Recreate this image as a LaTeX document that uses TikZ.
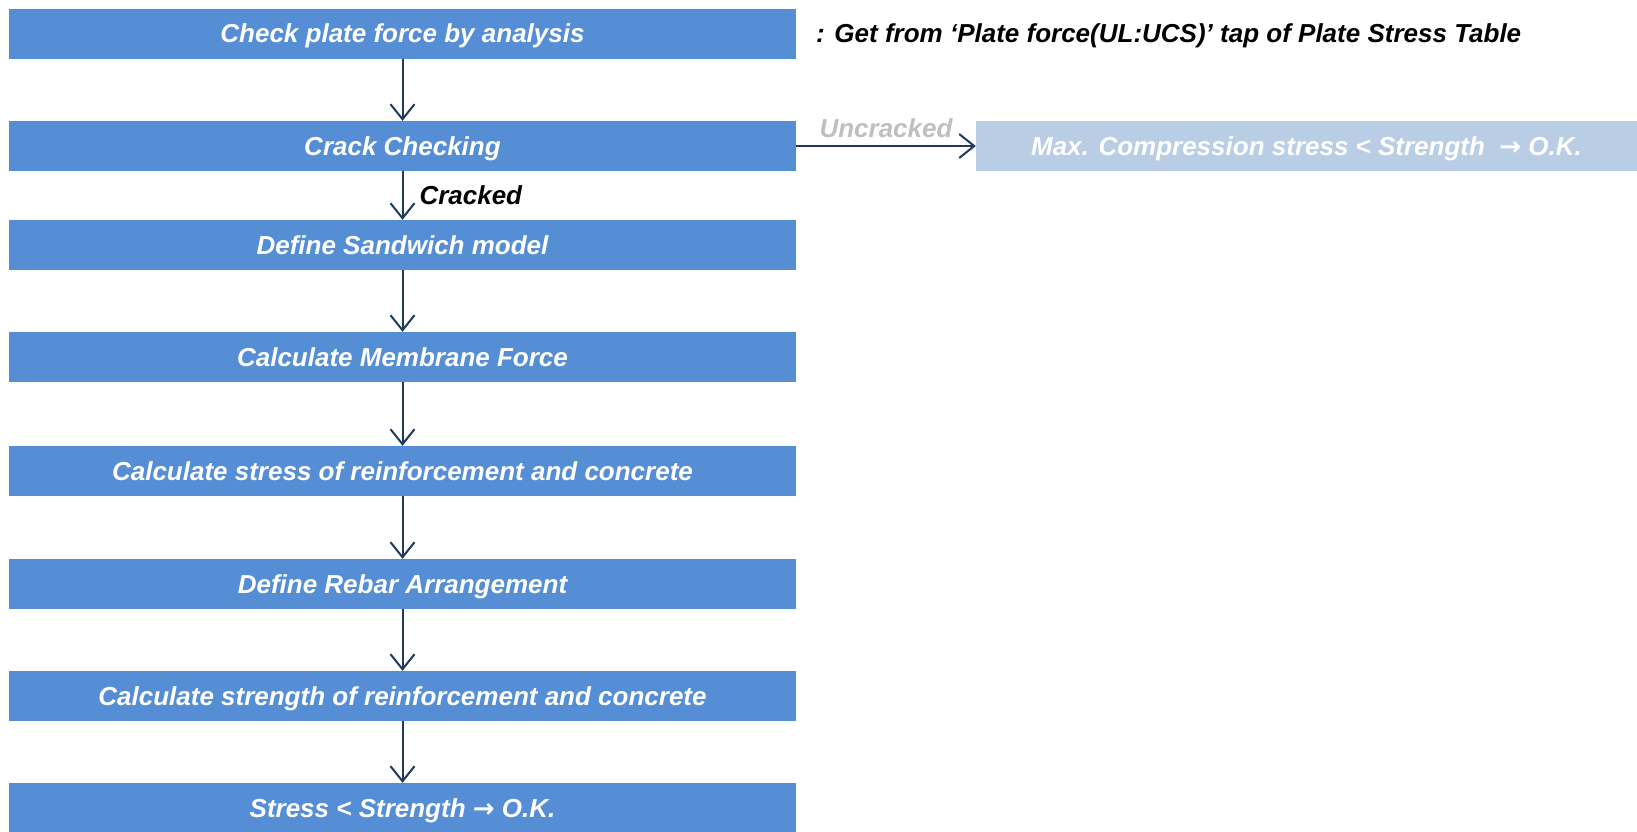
\documentclass[tikz,border=0pt]{standalone}
\usepackage{fontspec}
\setmainfont{Liberation Sans}
\newfontfamily\arrowfont{DejaVu Sans}
\usetikzlibrary{arrows.meta}
\definecolor{boxblue}{HTML}{558ED5}
\definecolor{lightblue}{HTML}{B9CDE5}
\definecolor{navy}{HTML}{1F3A60}
\definecolor{labelgray}{HTML}{BFBFBF}
\newcommand{\okarrow}{{\arrowfont\bfseries\char"2192}}
\begin{document}
\begin{tikzpicture}[x=1pt,y=-1pt,
  basebox/.style={minimum height=50pt, inner sep=0pt, text height=22pt, text depth=3.6pt,
    text=white, font=\fontsize{26}{30}\selectfont\bfseries\itshape},
  stepbox/.style={basebox, fill=boxblue, minimum width=787pt},
  lightbox/.style={basebox, fill=lightblue, minimum width=661pt},
  conn/.style={draw=navy, line width=2pt, -{Straight Barb[length=15pt,width=24pt,line width=2pt]}},
  lbl/.style={font=\fontsize{26}{30}\selectfont\bfseries\itshape, inner sep=0pt}
]
\useasboundingbox (0,0) rectangle (1637,831);
\node[stepbox] (b1) at (402.5,33.5) {Check plate force by analysis};
\node[stepbox] (b2) at (402.5,146) {Crack Checking};
\node[stepbox] (b3) at (402.5,245) {Define Sandwich model};
\node[stepbox] (b4) at (402.5,357) {Calculate Membrane Force};
\node[stepbox] (b5) at (402.5,471) {Calculate stress of reinforcement and concrete};
\node[stepbox] (b6) at (402.5,584) {Define Rebar Arrangement};
\node[stepbox] (b7) at (402.5,696) {Calculate strength of reinforcement and concrete};
\node[stepbox] (b8) at (402.5,808) {Stress < Strength \okarrow{} O.K.};
\node[lightbox] (r2) at (1306.5,146) {Max. Compression stress < Strength \ \okarrow{} O.K.};
\node[lbl, anchor=base west] (note) at (816,42.8) {: Get from ‘Plate force(UL:UCS)’ tap of Plate Stress Table};
\draw[conn] (b1) -- (b2);
\draw[conn] (b2) -- (b3) node[midway, right=16pt, lbl] (cr) {Cracked};
\draw[conn] (b3) -- (b4);
\draw[conn] (b4) -- (b5);
\draw[conn] (b5) -- (b6);
\draw[conn] (b6) -- (b7);
\draw[conn] (b7) -- (b8);
\draw[conn] (b2) -- (r2) node[midway, above=7pt, lbl, text=labelgray] (un) {Uncracked};
\end{tikzpicture}
\end{document}
